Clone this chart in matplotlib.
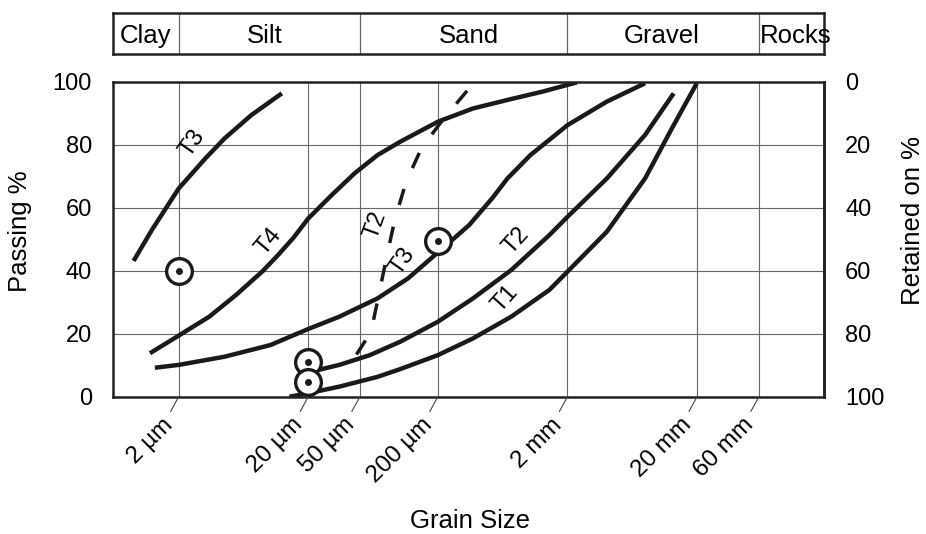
import matplotlib
matplotlib.use('Agg')
import matplotlib.pyplot as plt
import numpy as np

plt.rcParams['font.family'] = ['Liberation Sans', 'DejaVu Sans']

# grain size axis, values in mm
tick_mm = [0.002, 0.02, 0.05, 0.2, 2, 20, 60]
tick_labels = ['2 µm', '20 µm', '50 µm', '200 µm', '2 mm', '20 mm', '60 mm']

# soil classes in the band above the chart
class_names = ['Clay', 'Silt', 'Sand', 'Gravel', 'Rocks']
class_bounds = [0.002, 0.05, 2, 60]
class_label_mm = [0.0011, 0.0092, 0.35, 10.7, 116]

# grading curves: grain size (mm) and passing (%)
t3_fine_mm = [0.000897, 0.00124, 0.002, 0.00322, 0.00452, 0.00727, 0.0125]
t3_fine_pct = [43.1, 52.9, 66.1, 75.7, 82.0, 89.4, 96.3]

t4_mm = [0.0012, 0.002, 0.00344, 0.00554, 0.00891, 0.0117, 0.0154, 0.02,
         0.0303, 0.0455, 0.0684, 0.103, 0.2, 0.373, 0.736, 1.27, 2.37]
t4_pct = [13.8, 19.4, 25.4, 32.3, 39.9, 45.0, 50.5, 56.6, 64.0, 70.9, 76.7,
          81.0, 87.3, 91.5, 94.5, 96.8, 99.8]

t3_mm = [0.00131, 0.002, 0.00452, 0.0102, 0.02, 0.0347, 0.0684, 0.118,
         0.177, 0.232, 0.349, 0.525, 0.689, 1.035, 2.0, 4.03, 7.94]
t3_pct = [9.2, 10.1, 12.7, 16.4, 21.5, 25.4, 31.2, 37.6, 43.9, 48.1, 54.5,
          63.0, 69.3, 76.7, 86.2, 93.7, 99.5]

t2_mm = [0.0176, 0.02, 0.0347, 0.0597, 0.103, 0.2, 0.373, 0.736, 1.45, 2.0,
         4.03, 7.94, 13.2]
t2_pct = [6.9, 7.7, 10.1, 13.2, 17.5, 23.8, 31.2, 40.2, 51.3, 57.1, 69.3,
          83.1, 96.3]

t1_mm = [0.0143, 0.02, 0.0347, 0.0684, 0.103, 0.2, 0.373, 0.736, 1.45, 2.0,
         4.03, 7.94, 12.8, 19.9]
t1_pct = [0, 1.1, 3.2, 6.3, 8.8, 13.2, 18.5, 25.4, 33.9, 39.7, 52.4, 69.3,
          85.2, 99.5]

t2_dash_mm = [0.0471, 0.061, 0.0708, 0.0811, 0.0935, 0.114, 0.149, 0.217,
              0.349]
t2_dash_pct = [13.4, 20.6, 33.3, 45.0, 56.6, 68.3, 78.8, 87.8, 97.9]

# single test points
point_mm = [0.002, 0.02, 0.02, 0.2]
point_pct = [39.9, 11.1, 4.6, 49.5]

# curve names written along the curves
name_text = ['T3', 'T4', 'T2', 'T3', 'T2', 'T1']
name_mm = [0.00254, 0.00986, 0.066, 0.106, 0.80, 0.665]
name_pct = [80.4, 49.2, 54.5, 42.9, 49.4, 31.2]
name_rot = [55, 50, 70, 55, 48, 48]

fig = plt.figure(figsize=(9.26, 5.34), dpi=100)
ax = fig.add_axes([0.1217, 0.2571, 0.7685, 0.5899])
bx = fig.add_axes([0.1217, 0.8983, 0.7685, 0.0768])

xlim = (0.000619, 191.9)
for a in (ax, bx):
    a.set_xscale('log')
    a.set_xlim(xlim)
    for s in a.spines.values():
        s.set_linewidth(1.8)
        s.set_color('#222')

# main chart
ax.set_ylim(0, 100)
ax.set_xticks(tick_mm)
ax.xaxis.set_minor_locator(matplotlib.ticker.NullLocator())
ax.set_xticklabels([])
ax.set_yticks([0, 20, 40, 60, 80, 100])
ax.tick_params(axis='both', length=0, labelsize=17, pad=15)
ax.grid(True, color='#666', lw=0.8)

lw = 3.2
for xs, ys in [(t3_fine_mm, t3_fine_pct), (t4_mm, t4_pct), (t3_mm, t3_pct),
               (t2_mm, t2_pct), (t1_mm, t1_pct)]:
    ax.plot(xs, ys, color='#1a1a1a', lw=lw, solid_capstyle='butt',
            solid_joinstyle='round')
ax.plot(t2_dash_mm, t2_dash_pct, color='#1a1a1a', lw=2.5,
        dashes=(4.8, 6.5), dash_capstyle='butt')

ax.plot(point_mm, point_pct, 'o', ms=18.5, mfc='white', mec='#1a1a1a', mew=2.4,
        zorder=5)
ax.plot(point_mm, point_pct, 'o', ms=4, color='#1a1a1a', zorder=6)

for t, x, y, r in zip(name_text, name_mm, name_pct, name_rot):
    ax.text(x, y, t, rotation=r, fontsize=17, ha='center', va='center',
            rotation_mode='anchor')

# slanted leaders and labels under the grain size axis
for mm, lab in zip(tick_mm, tick_labels):
    ax.annotate('', xy=(mm, 0), xycoords=('data', 'axes fraction'),
                xytext=(-6.3, -11.5), textcoords='offset points',
                arrowprops=dict(arrowstyle='-', lw=0.8, color='#444',
                                shrinkA=1, shrinkB=0),
                annotation_clip=False)
    ax.annotate(lab, xy=(mm, 0), xycoords=('data', 'axes fraction'),
                xytext=(-6.5, -18), textcoords='offset points',
                rotation=45, rotation_mode='anchor', ha='right', va='center',
                fontsize=17.5, annotation_clip=False)

sec = ax.secondary_yaxis('right', functions=(lambda y: 100 - y, lambda y: 100 - y))
sec.set_yticks([0, 20, 40, 60, 80, 100])
sec.tick_params(length=0, labelsize=17, pad=15)
sec.spines['right'].set_linewidth(1.8)

# class band
bx.set_ylim(0, 1)
bx.set_xticks([])
bx.xaxis.set_minor_locator(matplotlib.ticker.NullLocator())
bx.set_yticks([])
for b in class_bounds:
    bx.axvline(b, color='#666', lw=0.9)
for name, x in zip(class_names, class_label_mm):
    bx.text(x, 0.45, name, ha='center', va='center', fontsize=18.5)

fig.text(0.5076, 0.024, 'Grain Size', ha='center', va='center', fontsize=18.5)
fig.text(0.0216, 0.5665, 'Passing %', rotation=90, ha='center', va='center',
         fontsize=18.5)
fig.text(0.986, 0.587, 'Retained on %', rotation=90, ha='center', va='center',
         fontsize=18.5)

plt.savefig('out.png', dpi=100)
plt.close()
